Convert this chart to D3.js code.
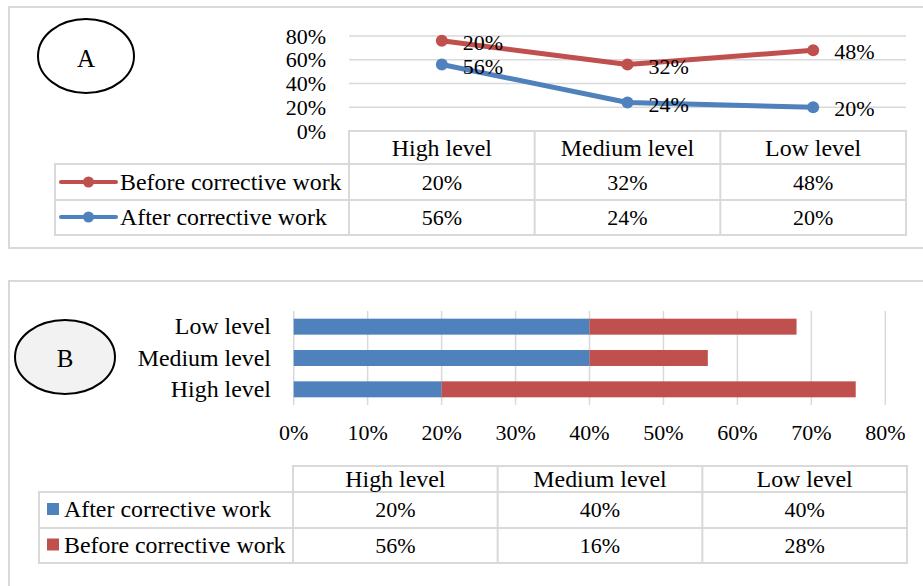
<!DOCTYPE html>
<html>
<head>
<meta charset="utf-8">
<script src="https://cdn.jsdelivr.net/npm/d3@7"></script>
<style>
  html, body { margin: 0; padding: 0; background: #fff; }
  svg { display: block; }
  text { font-family: "Liberation Serif", "Times New Roman", serif; fill: #000; }
</style>
</head>
<body>
<svg id="chart" width="923" height="586"></svg>
<script>
// ---------- data ----------
const categories = ["High level", "Medium level", "Low level"];
const lineBefore = [0.20, 0.32, 0.48];
const lineAfter  = [0.56, 0.24, 0.20];
const barAfter   = [0.20, 0.40, 0.40];
const barBefore  = [0.56, 0.16, 0.28];
const lineTicks  = [0, 0.2, 0.4, 0.6, 0.8];
const barTicks   = [0, 0.1, 0.2, 0.3, 0.4, 0.5, 0.6, 0.7, 0.8];
const seriesBefore = "Before corrective work";
const seriesAfter  = "After corrective work";

const RED = "#C0504D", BLUE = "#4F81BD", GRID = "#D9D9D9", BORDER = "#D9D9D9";
const NUM_FS = "22px", WORD_FS = "23.9px";
const pct = d3.format(".0%");

const svg = d3.select("#chart");

// ================= Chart A (stacked line) =================
const gA = svg.append("g");
gA.append("rect").attr("x", 9).attr("y", 7).attr("width", 930).attr("height", 241)
  .attr("fill", "#fff").attr("stroke", BORDER).attr("stroke-width", 2);

const ax0 = 349, ax1 = 906, ay0 = 131, ay1 = 36;
const xA = d3.scalePoint().domain(categories).range([ax0, ax1]).padding(0.5);
const yA = d3.scaleLinear().domain([0, 0.8]).range([ay0, ay1]);

const rowsA = categories.map((c, i) => ({cat: c, after: lineAfter[i], before: lineBefore[i]}));
const stackA = d3.stack().keys(["after", "before"])(rowsA);

// gridlines
gA.selectAll("line.grid").data(lineTicks.filter(t => t > 0)).join("line")
  .attr("x1", ax0).attr("x2", ax1).attr("y1", d => yA(d)).attr("y2", d => yA(d))
  .attr("stroke", GRID).attr("stroke-width", 1.5);

// y axis labels
gA.selectAll("text.ytick").data(lineTicks).join("text")
  .attr("x", 326).attr("y", d => yA(d) + 7.5)
  .attr("text-anchor", "end").style("font-size", NUM_FS).text(d => pct(d));

// lines
const lineGen = d3.line().x(d => xA(d.data.cat)).y(d => yA(d[1]));
const seriesA = [
  {layer: stackA[0], color: BLUE, raw: lineAfter},
  {layer: stackA[1], color: RED, raw: lineBefore}
];
seriesA.forEach(s => {
  gA.append("path").datum(s.layer).attr("d", lineGen)
    .attr("fill", "none").attr("stroke", s.color).attr("stroke-width", 5)
    .attr("stroke-linejoin", "round").attr("stroke-linecap", "round");
  gA.selectAll(null).data(s.layer).join("circle")
    .attr("cx", d => xA(d.data.cat)).attr("cy", d => yA(d[1])).attr("r", 6)
    .attr("fill", s.color);
  gA.selectAll(null).data(s.layer).join("text")
    .attr("x", d => xA(d.data.cat) + 21).attr("y", d => yA(d[1]) + 9)
    .style("font-size", NUM_FS).text((d, i) => pct(s.raw[i]));
});

// data table A
const colW_A = (ax1 - ax0) / categories.length;
const tA = {headTop: 131, headBot: 164, r1Bot: 200, r2Bot: 235, left: 55};
const bA = gA.append("g").attr("stroke", BORDER).attr("stroke-width", 2).attr("fill", "none");
bA.append("path").attr("d",
  `M${ax0},${tA.r2Bot} V${tA.headTop} H${ax1} V${tA.r2Bot} H${tA.left} V${tA.headBot} H${ax1}` +
  ` M${tA.left},${tA.r1Bot} H${ax1}` +
  categories.slice(1).map((c, i) => ` M${ax0 + colW_A * (i + 1)},${tA.headTop} V${tA.r2Bot}`).join(""));

gA.selectAll("text.headA").data(categories).join("text")
  .attr("x", d => xA(d)).attr("y", 156).attr("text-anchor", "middle")
  .style("font-size", WORD_FS).text(d => d);

const tableRowsA = [
  {name: seriesBefore, color: RED, vals: lineBefore, base: 190, cy: 182},
  {name: seriesAfter, color: BLUE, vals: lineAfter, base: 225, cy: 217}
];
tableRowsA.forEach(r => {
  gA.append("line").attr("x1", 61).attr("x2", 116).attr("y1", r.cy).attr("y2", r.cy)
    .attr("stroke", r.color).attr("stroke-width", 4).attr("stroke-linecap", "round");
  gA.append("circle").attr("cx", 88.5).attr("cy", r.cy).attr("r", 5.5).attr("fill", r.color);
  gA.append("text").attr("x", 120).attr("y", r.base).style("font-size", WORD_FS).text(r.name);
  gA.selectAll(null).data(r.vals).join("text")
    .attr("x", (d, i) => xA(categories[i])).attr("y", r.base).attr("text-anchor", "middle")
    .style("font-size", NUM_FS).text(d => pct(d));
});

// oval A
gA.append("ellipse").attr("cx", 86).attr("cy", 56).attr("rx", 48).attr("ry", 37)
  .attr("fill", "#fff").attr("stroke", "#000").attr("stroke-width", 2);
gA.append("text").attr("x", 86).attr("y", 66.5).attr("text-anchor", "middle")
  .style("font-size", "25px").text("A");

// ================= Chart B (stacked bar) =================
const gB = svg.append("g");
gB.append("rect").attr("x", 9).attr("y", 281).attr("width", 930).attr("height", 330)
  .attr("fill", "#fff").attr("stroke", BORDER).attr("stroke-width", 2);

const bx0 = 293.7, bx1 = 885.3, by0 = 311, by1 = 405;
const xB = d3.scaleLinear().domain([0, 0.8]).range([bx0, bx1]);
const yB = d3.scaleBand().domain(categories.slice().reverse()).range([by0, by1])
  .paddingInner(0.49).paddingOuter(0.245);

// vertical gridlines
gB.selectAll("line.vgrid").data(barTicks).join("line")
  .attr("x1", d => xB(d)).attr("x2", d => xB(d)).attr("y1", by0).attr("y2", by1)
  .attr("stroke", GRID).attr("stroke-width", 1.5);

const rowsB = categories.map((c, i) => ({cat: c, after: barAfter[i], before: barBefore[i]}));
const stackB = d3.stack().keys(["after", "before"])(rowsB);
const colorsB = [BLUE, RED];
stackB.forEach((layer, li) => {
  gB.selectAll(null).data(layer).join("rect")
    .attr("x", d => xB(d[0])).attr("width", d => xB(d[1]) - xB(d[0]))
    .attr("y", d => yB(d.data.cat)).attr("height", yB.bandwidth())
    .attr("fill", colorsB[li]);
});

// y labels
gB.selectAll("text.ylab").data(categories).join("text")
  .attr("x", 271).attr("y", d => yB(d) + yB.bandwidth() / 2 + 7.5)
  .attr("text-anchor", "end").style("font-size", WORD_FS).text(d => d);

// x tick labels
gB.selectAll("text.xtick").data(barTicks).join("text")
  .attr("x", d => xB(d)).attr("y", 440).attr("text-anchor", "middle")
  .style("font-size", NUM_FS).text(d => pct(d));

// data table B
const tB = {left0: 293, right: 907, headTop: 466, headBot: 492, r1Bot: 528, r2Bot: 563, left: 39};
const colW_B = (tB.right - tB.left0) / categories.length;
const colCenterB = i => tB.left0 + colW_B * (i + 0.5);
const bB = gB.append("g").attr("stroke", BORDER).attr("stroke-width", 2).attr("fill", "none");
bB.append("path").attr("d",
  `M${tB.left0},${tB.r2Bot} V${tB.headTop} H${tB.right} V${tB.r2Bot} H${tB.left} V${tB.headBot} H${tB.right}` +
  ` M${tB.left},${tB.r1Bot} H${tB.right}` +
  categories.slice(1).map((c, i) => ` M${tB.left0 + colW_B * (i + 1)},${tB.headTop} V${tB.r2Bot}`).join(""));

gB.selectAll("text.headB").data(categories).join("text")
  .attr("x", (d, i) => colCenterB(i)).attr("y", 487).attr("text-anchor", "middle")
  .style("font-size", WORD_FS).text(d => d);

const tableRowsB = [
  {name: seriesAfter, color: BLUE, vals: barAfter, base: 517, sq: 503},
  {name: seriesBefore, color: RED, vals: barBefore, base: 552.5, sq: 538.5}
];
tableRowsB.forEach(r => {
  gB.append("rect").attr("x", 47).attr("y", r.sq).attr("width", 12).attr("height", 12).attr("fill", r.color);
  gB.append("text").attr("x", 64).attr("y", r.base).style("font-size", WORD_FS).text(r.name);
  gB.selectAll(null).data(r.vals).join("text")
    .attr("x", (d, i) => colCenterB(i)).attr("y", r.base).attr("text-anchor", "middle")
    .style("font-size", NUM_FS).text(d => pct(d));
});

// oval B
gB.append("ellipse").attr("cx", 65).attr("cy", 357).attr("rx", 50).attr("ry", 37)
  .attr("fill", "#F2F2F2").attr("stroke", "#000").attr("stroke-width", 2);
gB.append("text").attr("x", 65).attr("y", 366.5).attr("text-anchor", "middle")
  .style("font-size", "25px").text("B");
</script>
</body>
</html>
